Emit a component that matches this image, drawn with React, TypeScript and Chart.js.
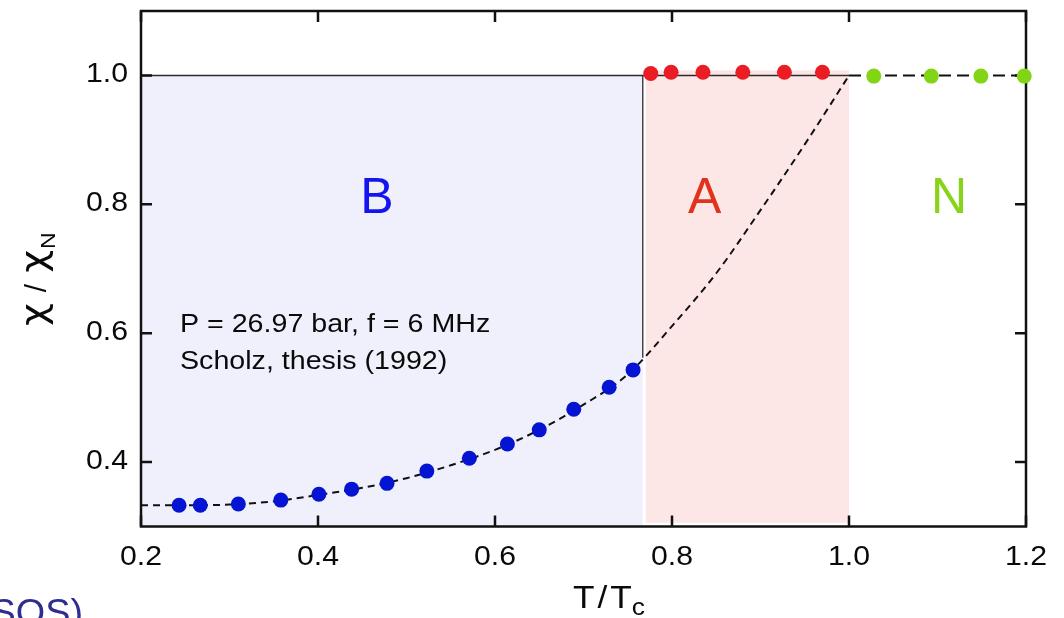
import React, { useEffect, useRef } from 'react';
import { Chart, registerables } from 'chart.js';

Chart.register(...registerables);

// ---------- data ----------
const blueX = [0.243, 0.267, 0.310, 0.358, 0.401, 0.438, 0.478, 0.523, 0.571, 0.614, 0.650, 0.689, 0.729, 0.756];
const blueY = [0.333, 0.333, 0.335, 0.341, 0.350, 0.358, 0.367, 0.386, 0.406, 0.428, 0.450, 0.482, 0.516, 0.543];

const redX = [0.776, 0.799, 0.835, 0.880, 0.927, 0.970];
const redY = [1.003, 1.005, 1.005, 1.005, 1.005, 1.005];

const greenX = [1.028, 1.093, 1.149, 1.198];
const greenY = [0.999, 0.999, 0.999, 0.999];

const curveX = [0.20, 0.25, 0.30, 0.35, 0.40, 0.45, 0.50, 0.55, 0.60, 0.65, 0.70, 0.75, 0.80, 0.85, 0.90, 0.95, 1.00];
const curveY = [0.333, 0.333, 0.334, 0.339, 0.349, 0.360, 0.375, 0.395, 0.419, 0.450, 0.489, 0.536, 0.611, 0.693, 0.791, 0.893, 1.000];
const flatX = [1.00, 1.20];
const flatY = [1.000, 1.000];

const bRegionX = [0.2, 0.767];
const bRegionY = [1.0, 1.0];
const aRegionX = [0.770, 1.0];
const aRegionY = [1.008, 1.008];
const aRegionBase = 0.306;
const topLineX = [0.2, 1.0];
const topLineY = [1.0, 1.0];
const bEdgeX = [0.767, 0.767];
const bEdgeY = [1.0, 0.562];

const xTicks = [0.2, 0.4, 0.6, 0.8, 1.0, 1.2];
const yTicks = [0.4, 0.6, 0.8, 1.0];
const xTickLabels = ['0.2', '0.4', '0.6', '0.8', '1.0', '1.2'];
const yTickLabels = ['0.4', '0.6', '0.8', '1.0'];

const phaseLabels = ['B', 'A', 'N'];
const phaseX = [0.4667, 0.837, 1.113];
const phaseColors = ['#1414ee', '#e0321c', '#88d41a'];

const noteLines = ['P = 26.97 bar, f = 6 MHz', 'Scholz, thesis (1992)'];

// ---------- helpers ----------
const FONT = '"Liberation Sans", Arial, Helvetica, sans-serif';
const pts = (xs: number[], ys: number[]) => xs.map((x, i) => ({ x, y: ys[i] }));

function drawText(
  ctx: CanvasRenderingContext2D,
  text: string,
  x: number,
  y: number,
  size: number,
  align: 'left' | 'center' | 'right',
  hs: number,
  color: string,
  family: string = FONT
) {
  ctx.save();
  ctx.font = `${size}px ${family}`;
  ctx.fillStyle = color;
  const w = ctx.measureText(text).width * hs;
  const left = align === 'center' ? x - w / 2 : align === 'right' ? x - w : x;
  ctx.translate(left, y);
  ctx.scale(hs, 1);
  ctx.textAlign = 'left';
  ctx.textBaseline = 'alphabetic';
  ctx.fillText(text, 0, 0);
  ctx.restore();
  return w;
}

function drawFrame(chart: any) {
  const { ctx, chartArea: a, scales } = chart;
  const xs = scales.x;
  const ys = scales.y;
  ctx.save();
  ctx.strokeStyle = '#111';
  ctx.lineWidth = 2.5;
  ctx.strokeRect(a.left, a.top, a.right - a.left, a.bottom - a.top);
  const tl = 11;
  ctx.beginPath();
  for (const v of xTicks) {
    const px = xs.getPixelForValue(v);
    ctx.moveTo(px, a.bottom);
    ctx.lineTo(px, a.bottom - tl);
    ctx.moveTo(px, a.top);
    ctx.lineTo(px, a.top + tl);
  }
  for (const v of yTicks) {
    const py = ys.getPixelForValue(v);
    ctx.moveTo(a.left, py);
    ctx.lineTo(a.left + tl, py);
    ctx.moveTo(a.right, py);
    ctx.lineTo(a.right - tl, py);
  }
  ctx.stroke();
  ctx.restore();
}

const decorPlugin = {
  id: 'decor',
  beforeDatasetDraw(chart: any, args: any) {
    if (args.index === 2) drawFrame(chart);
  },
  afterDraw(chart: any) {
    const { ctx, chartArea: a, scales } = chart;
    const xs = scales.x;
    const ys = scales.y;
    const HS = 1.1;

    // tick labels
    xTicks.forEach((v, i) => {
      drawText(ctx, xTickLabels[i], xs.getPixelForValue(v), a.bottom + 38.5, 27.5, 'center', HS, '#0a0a0a');
    });
    yTicks.forEach((v, i) => {
      drawText(ctx, yTickLabels[i], a.left - 13, ys.getPixelForValue(v) + 6.8, 27.5, 'right', HS, '#0a0a0a');
    });

    // phase labels
    phaseLabels.forEach((t, i) => {
      drawText(ctx, t, xs.getPixelForValue(phaseX[i]), ys.getPixelForValue(0.787), 50, 'center', 1.0, phaseColors[i]);
    });

    // note
    drawText(ctx, noteLines[0], 180, 332, 26.5, 'left', 1.08, '#0a0a0a');
    drawText(ctx, noteLines[1], 180, 369, 26.5, 'left', 1.08, '#0a0a0a');

    // x title: T / Tc
    let x = 573;
    const base = 608;
    x += drawText(ctx, 'T', x, base, 32, 'left', HS, '#0a0a0a');
    x += 3;
    x += drawText(ctx, '/', x, base, 32, 'left', HS, '#0a0a0a');
    x += 3;
    x += drawText(ctx, 'T', x, base, 32, 'left', HS, '#0a0a0a');
    drawText(ctx, 'c', x, base + 7, 24, 'left', HS, '#0a0a0a');

    // y title: χ / χN  (rotated)
    ctx.save();
    ctx.translate(46, 326);
    ctx.rotate(-Math.PI / 2);
    const GF = '"DejaVu Sans", sans-serif';
    let u = 0;
    u += drawText(ctx, 'χ', u, 0, 36, 'left', 1.1, '#0a0a0a', GF);
    u += 11;
    u += drawText(ctx, '/', u, 0, 30, 'left', 1.0, '#0a0a0a');
    u += 11;
    u += drawText(ctx, 'χ', u, 0, 36, 'left', 1.1, '#0a0a0a', GF);
    u += 1;
    drawText(ctx, 'N', u, 9, 21, 'left', 1.1, '#0a0a0a');
    ctx.restore();

    // cut-off slide text at bottom-left
    drawText(ctx, '(SOS)', 83, 625, 36, 'right', 1.05, '#2e2e8e');
  },
};

export default function App() {
  const ref = useRef<HTMLCanvasElement | null>(null);

  useEffect(() => {
    document.body.style.margin = '0';
    document.body.style.overflow = 'hidden';
    const canvas = ref.current;
    if (!canvas) return;

    const chart = new Chart(canvas, {
      type: 'scatter',
      data: {
        datasets: [
          {
            label: 'B phase',
            data: pts(blueX, blueY),
            backgroundColor: '#0514d2',
            borderColor: '#0514d2',
            pointRadius: 7.5,
            pointBorderWidth: 0,
            showLine: false,
            clip: false,
            order: 0,
          },
          {
            label: 'A phase',
            data: pts(redX, redY),
            backgroundColor: '#ea1c24',
            borderColor: '#ea1c24',
            pointRadius: 7.5,
            pointBorderWidth: 0,
            showLine: false,
            clip: false,
            order: 0,
          },
          {
            label: 'Normal',
            data: pts(greenX, greenY),
            backgroundColor: '#82d514',
            borderColor: '#82d514',
            pointRadius: 7.5,
            pointBorderWidth: 0,
            showLine: false,
            clip: false,
            order: 0,
          },
          {
            label: 'curve',
            data: pts(curveX, curveY),
            showLine: true,
            borderColor: '#111',
            borderWidth: 2,
            borderDash: [7, 5],
            pointRadius: 0,
            cubicInterpolationMode: 'monotone',
            fill: false,
            order: 1,
          },
          {
            label: 'normal line',
            data: pts(flatX, flatY),
            showLine: true,
            borderColor: '#111',
            borderWidth: 2,
            borderDash: [12, 6],
            pointRadius: 0,
            fill: false,
            order: 1,
          },
          {
            label: 'top line',
            data: pts(topLineX, topLineY),
            showLine: true,
            borderColor: '#2a2a2a',
            borderWidth: 1.6,
            pointRadius: 0,
            fill: false,
            order: 2,
          },
          {
            label: 'B edge',
            data: pts(bEdgeX, bEdgeY),
            showLine: true,
            borderColor: '#2a2a2a',
            borderWidth: 1.3,
            pointRadius: 0,
            fill: false,
            order: 2,
          },
          {
            label: 'A region',
            data: pts(aRegionX, aRegionY),
            showLine: true,
            borderColor: 'transparent',
            borderWidth: 0,
            backgroundColor: '#fde7e6',
            pointRadius: 0,
            fill: { value: aRegionBase },
            order: 3,
          },
          {
            label: 'B region',
            data: pts(bRegionX, bRegionY),
            showLine: true,
            borderColor: 'transparent',
            borderWidth: 0,
            backgroundColor: '#f0f0fc',
            pointRadius: 0,
            fill: 'start',
            order: 3,
          },
        ] as any,
      },
      options: {
        animation: false,
        responsive: false,
        maintainAspectRatio: false,
        events: [],
        layout: { padding: { top: 11, right: 38, left: 0, bottom: 0 } },
        plugins: {
          legend: { display: false },
          tooltip: { enabled: false },
        },
        scales: {
          x: {
            type: 'linear',
            position: 'bottom',
            min: 0.2,
            max: 1.2,
            grid: { display: false, drawTicks: false },
            border: { display: false },
            ticks: { display: false },
            afterBuildTicks: (s: any) => {
              s.ticks = xTicks.map((v) => ({ value: v }));
            },
            afterFit: (s: any) => {
              s.height = 91.5;
            },
          },
          y: {
            type: 'linear',
            position: 'left',
            min: 0.3,
            max: 1.1,
            grid: { display: false, drawTicks: false },
            border: { display: false },
            ticks: { display: false },
            afterBuildTicks: (s: any) => {
              s.ticks = yTicks.map((v) => ({ value: v }));
            },
            afterFit: (s: any) => {
              s.width = 141;
            },
          },
        },
      } as any,
      plugins: [decorPlugin],
    });

    return () => chart.destroy();
  }, []);

  return (
    <div style={{ width: 1064, height: 618, position: 'relative', background: '#fff' }}>
      <canvas ref={ref} width={1064} height={618} style={{ display: 'block' }} />
    </div>
  );
}
